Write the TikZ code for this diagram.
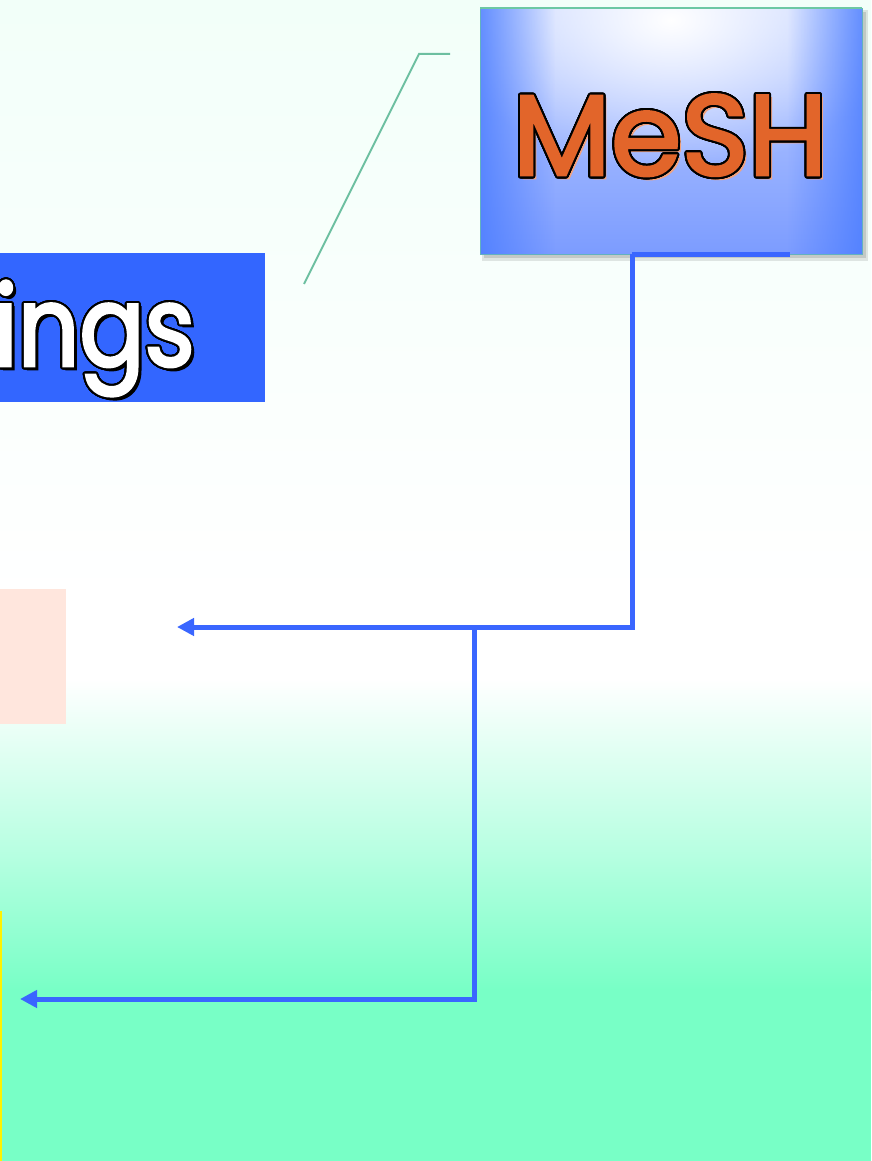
\documentclass[tikz,border=0pt]{standalone}
\usepackage{fontspec}
\setmainfont{Poppins}
\newfontfamily\meshfont{Poppins}[FakeBold=2.5]
\newfontfamily\ingsfont{Poppins}[FakeStretch=0.86, FakeBold=2.5]
\usepackage{contour}
\usetikzlibrary{arrows.meta,fadings}
\definecolor{lineblue}{HTML}{3A66FF}
\definecolor{boxblue}{HTML}{3366FF}
\definecolor{meshrim}{HTML}{4A7CFF}
\definecolor{meshbot}{HTML}{7C9CFF}
\definecolor{meshtop}{HTML}{C2D2FF}
\definecolor{meshorange}{HTML}{E2652A}
\definecolor{shadoworange}{HTML}{F2A27C}
\definecolor{leadgreen}{HTML}{6CBFA0}
\definecolor{pinkfill}{HTML}{FFE6DD}
\definecolor{bgbot}{HTML}{78FFC6}
\definecolor{bgmid}{HTML}{B4FFE0}
\definecolor{bgtop}{HTML}{F2FFF9}
\definecolor{edgeteal}{HTML}{6CC8A4}
\tikzfading[name=glowfade, inner color=transparent!0, outer color=transparent!100]
\tikzfading[name=fadetoright, left color=transparent!0, right color=transparent!100]
\tikzfading[name=fadetoleft, left color=transparent!100, right color=transparent!0]
\tikzfading[name=fadetotop, bottom color=transparent!0, top color=transparent!100]
\contourlength{2pt}
\contournumber{32}
\tikzset{
  conn/.style={draw=lineblue, line width=5pt},
  arrowed/.style={conn, -{Triangle[length=17pt,width=17pt]}},
  meshtext/.style={font=\meshfont\fontsize{114}{114}\selectfont, inner sep=0pt},
  ingstext/.style={font=\ingsfont\fontsize{112}{112}\selectfont, inner sep=0pt},
  leader/.style={draw=leadgreen, line width=2pt}
}
\begin{document}
\begin{tikzpicture}[x=1pt,y=-1pt]
\useasboundingbox (0,0) rectangle (871,1161);
\clip (0,0) rectangle (871,1161);
% background
\shade[top color=bgtop, bottom color=white] (0,0) rectangle (871,600);
\fill[white] (0,599) rectangle (871,680);
\shade[top color=white, bottom color=bgmid] (0,679) rectangle (871,860);
\shade[top color=bgmid, bottom color=bgbot] (0,859) rectangle (871,990);
\fill[bgbot] (0,989) rectangle (871,1161);

% MeSH box with shadow
\fill[black, opacity=0.10] (482,10) rectangle (868,261);
\fill[black, opacity=0.12] (484,12) rectangle (866,258);
\node[shade, top color=meshtop, bottom color=meshbot, anchor=north west, minimum width=382pt, minimum height=246pt, inner sep=0pt] (mesh) at (480,8) {};
\begin{scope}
\clip (mesh.north west) rectangle (mesh.south east);
\fill[white, path fading=glowfade, fit fading=true] (671,20) ellipse (230 and 150);
\fill[meshrim, opacity=0.8, path fading=fadetoright, fit fading=true] (mesh.north west) rectangle ([xshift=75pt]mesh.south west);
\fill[meshrim, opacity=0.8, path fading=fadetoleft, fit fading=true] ([xshift=-75pt]mesh.north east) rectangle (mesh.south east);
\fill[meshrim, opacity=0.8, path fading=fadetotop, fit fading=true] ([yshift=-60pt]mesh.south west) rectangle (mesh.south east);
\end{scope}
\draw[edgeteal!70!meshrim, line width=0.8pt] (mesh.north west) rectangle (mesh.south east);
\draw[edgeteal, line width=2.5pt] (mesh.north west) -- (mesh.north east);
\node[meshtext, anchor=base, text=shadoworange] (meshshadow) at (673,178) {MeSH};
\node[meshtext, anchor=base] (meshtxt) at (670,175) {\color{meshorange}\contour{black}{MeSH}};

% ings box
\node[fill=boxblue, anchor=north east, minimum width=400pt, minimum height=149pt, inner sep=0pt] (ingsbox) at (265,253) {};
\node[ingstext, anchor=base east, text=black] (ingsshadow) at (198,369) {ings};
\node[ingstext, anchor=base east] (ingstxt) at (195,366) {\color{white}\contour{black}{ings}};

% leader line
\coordinate (l1) at (304,284);
\coordinate (l2) at (419,54);
\coordinate (l3) at (450,54);
\draw[leader] (l1) -- (l2) -- (l3);

% pink box
\node[fill=pinkfill, anchor=north east, minimum width=100pt, minimum height=135pt, inner sep=0pt] (pinkbox) at (66,589) {};

% yellow edge
\coordinate (y1) at (0.5,911);
\coordinate (y2) at (0.5,1161);
\draw[yellow, line width=2pt] (y1) -- (y2);

% connectors
\coordinate (m2) at (790,254);
\coordinate (m1) at (632,254);
\coordinate (j1) at (632,627);
\coordinate (a1) at (177,627);
\coordinate (j2) at (474,627);
\coordinate (j3) at (474,999);
\coordinate (a2) at (20,999);
\draw[conn] (m2) -- (m1);
\draw[arrowed] (m1) -- (j1) -- (a1);
\draw[arrowed] (j2) -- (j3) -- (a2);
\end{tikzpicture}
\end{document}
